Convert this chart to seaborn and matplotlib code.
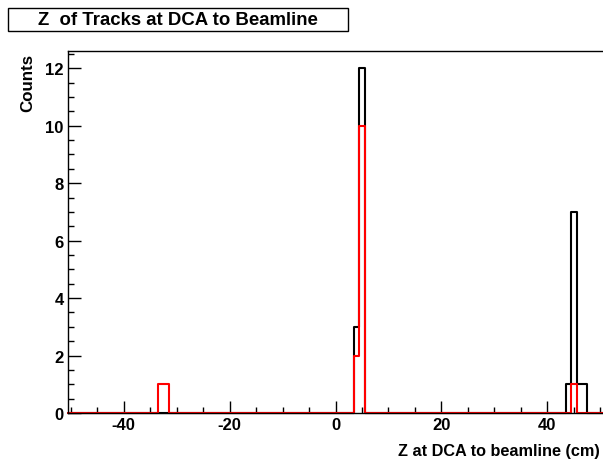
import numpy as np
import pandas as pd
import matplotlib
matplotlib.use("Agg")
import matplotlib.pyplot as plt
from matplotlib.patches import Rectangle
from matplotlib.ticker import MultipleLocator
import seaborn as sns

# ---- data (bin centers in cm, counts) ----
black_z = [4, 5, 44, 45, 46, 47]
black_counts = [3, 12, 1, 7, 1, 1]
red_z = [-33, -32, 4, 5, 45]
red_counts = [1, 1, 2, 10, 1]
x_range = (-50.5, 50.5)
bin_width = 1.0

title = "Z  of Tracks at DCA to Beamline"
xlabel = "Z at DCA to beamline (cm)"
ylabel = "Counts"

sns.set_theme(style="white")
plt.rcParams['font.family'] = ['Liberation Sans', 'DejaVu Sans']
plt.rcParams['font.weight'] = 'bold'
plt.rcParams['axes.unicode_minus'] = False
plt.rcParams['text.color'] = 'black'
plt.rcParams['xtick.color'] = 'black'
plt.rcParams['ytick.color'] = 'black'
plt.rcParams['xtick.labelcolor'] = 'black'
plt.rcParams['ytick.labelcolor'] = 'black'

fig = plt.figure(figsize=(6.03, 4.60), dpi=100)
ax = fig.add_axes([68/603, 1-414/460, 1-68/603, (414-52)/460])

df_b = pd.DataFrame({"z": black_z, "n": black_counts})
df_r = pd.DataFrame({"z": red_z, "n": red_counts})

sns.histplot(data=df_b, x="z", weights="n", binwidth=bin_width, binrange=x_range,
             element="step", fill=False, color="black", linewidth=1.5, ax=ax)
sns.histplot(data=df_r, x="z", weights="n", binwidth=bin_width, binrange=x_range,
             element="step", fill=False, color="#ff0000", linewidth=1.5, ax=ax)
for ln in ax.lines:
    ln.set_clip_on(False)

ax.set_xlim(*x_range)
ax.set_ylim(0, 12.6)

ax.xaxis.set_major_locator(MultipleLocator(20))
ax.xaxis.set_minor_locator(MultipleLocator(5))
ax.yaxis.set_major_locator(MultipleLocator(2))
ax.yaxis.set_minor_locator(MultipleLocator(0.5))
ax.tick_params(which='major', direction='in', length=9, width=1, color='black',
               labelcolor='black', labelsize=12, pad=3,
               bottom=True, left=True, top=False, right=False)
ax.tick_params(which='minor', direction='in', length=4.5, width=1, color='black',
               bottom=True, left=True, top=False, right=False)
for lab in ax.get_xticklabels() + ax.get_yticklabels():
    lab.set_fontweight('bold')

for side in ['left', 'bottom', 'top']:
    ax.spines[side].set_color('black')
    ax.spines[side].set_linewidth(1)
ax.spines['right'].set_visible(False)

ax.set_xlabel("")
ax.set_ylabel("")
fig.text(600/603, 1-452/460, xlabel, ha='right', va='center',
         fontsize=11.7, fontweight='bold', color='black')
fig.text(28/603, 1-54/460, ylabel, ha='center', va='top', rotation=90,
         fontsize=12.2, fontweight='bold', color='black')

# title box
fig.patches.append(Rectangle((8/603, 1-32/460), (348-8)/603, 23/460,
                             transform=fig.transFigure, facecolor='white',
                             edgecolor='black', linewidth=1))
fig.text(178/603, 1-20.5/460, title, ha='center', va='center',
         fontsize=13.4, fontweight='bold', color='black')

fig.savefig("out.png", dpi=100)
